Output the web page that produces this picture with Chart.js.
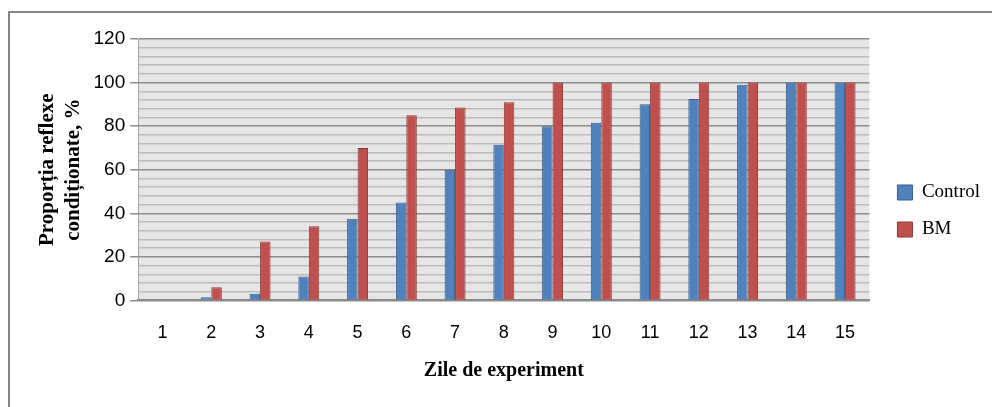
<!DOCTYPE html>
<html>
<head>
<meta charset="utf-8">
<script src="https://cdn.jsdelivr.net/npm/chart.js@4/dist/chart.umd.min.js"></script>
<style>
    html, body { margin: 0; padding: 0; background: #ffffff; overflow: hidden; }
    #wrap { position: relative; width: 992px; height: 407px; }
    #frame { position: absolute; left: 8px; top: 11px; width: 1000px; height: 420px;
        border-top: 2px solid #858585; border-left: 2px solid #858585; box-sizing: border-box; }
    #chart { position: absolute; left: 0; top: 0; }
</style>
</head>
<body>
<div id="wrap">
    <div id="frame"></div>
    <canvas id="chart" width="992" height="407"></canvas>
</div>
<script>
const days = ["1", "2", "3", "4", "5", "6", "7", "8", "9", "10", "11", "12", "13", "14", "15"];
const controlVals = [0, 1.5, 3, 11, 37.5, 45, 60, 71.5, 80, 81.5, 90, 92.5, 99, 100, 100];
const bmVals = [0, 6, 27, 34, 70, 85, 88.5, 91, 100, 100, 100, 100, 100, 100, 100];
const yTitle = ["Proporția reflexe", "condiționate, %"];
const xTitle = "Zile de experiment";

// grey plot background
const plotBack = {
    id: "plotBack",
    beforeDraw(chart) {
        let a = chart.chartArea;
        let ctx = chart.ctx;
        ctx.save();
        ctx.fillStyle = "#e6e6e6";
        ctx.fillRect(a.left, a.top, a.right - a.left, a.bottom - a.top);
        ctx.restore();
    },
};

// empty box between plot and legend, so the legend sits a bit further right
const legendGap = {
    id: "legendGap",
    beforeInit(chart) {
        Chart.layouts.addBox(chart, {
            position: "right",
            weight: 500,
            fullSize: false,
            options: { display: true },
            isHorizontal() {
                return false;
            },
            update(maxW, maxH) {
                this.width = 10;
                this.height = maxH;
            },
            draw() {},
        });
    },
};

let char = document.getElementById("chart");
let barChart = new Chart(char, {
    type: "bar",
    data: {
        labels: days,
        datasets: [
            {
                label: "Control",
                data: controlVals,
                backgroundColor: "#4f81bd",
                borderColor: "#385d8a",
                borderWidth: 1,
                borderSkipped: "bottom",
            },
            {
                label: "BM",
                data: bmVals,
                backgroundColor: "#c0504d",
                borderColor: "#8c3836",
                borderWidth: 1,
                borderSkipped: "bottom",
            },
        ],
    },
    plugins: [plotBack, legendGap],
    options: {
        responsive: false,
        animation: false,
        layout: {
            padding: { left: 34, top: 39, right: 2, bottom: 24 },
        },
        datasets: {
            bar: { categoryPercentage: 0.43, barPercentage: 1.0 },
        },
        plugins: {
            tooltip: { enabled: false },
            legend: {
                position: "right",
                labels: {
                    color: "#000000",
                    font: { family: "Liberation Serif", size: 19 },
                    boxWidth: 15,
                    boxHeight: 15,
                    padding: 18,
                },
            },
        },
        scales: {
            x: {
                grid: { display: false },
                border: { display: true, color: "#8a8a8a", width: 2 },
                ticks: {
                    color: "#000000",
                    font: { family: "Liberation Sans", size: 18 },
                    padding: 14,
                },
                title: {
                    display: true,
                    text: xTitle,
                    color: "#000000",
                    font: { family: "Liberation Serif", size: 20, weight: "bold" },
                    padding: { top: 1, bottom: 0 },
                },
            },
            y: {
                min: 0,
                max: 120,
                ticks: {
                    stepSize: 4,
                    autoSkip: false,
                    color: "#000000",
                    font: { family: "Liberation Sans", size: 19 },
                    padding: 5,
                    callback: (v) => (v % 20 === 0 ? v : ""),
                },
                grid: {
                    drawTicks: true,
                    tickLength: 8,
                    color: (ctx) => (ctx.tick && ctx.tick.value % 20 === 0 ? "#8c8c8c" : "#bcbcbc"),
                    lineWidth: 1.5,
                    tickColor: (ctx) => (ctx.tick && ctx.tick.value % 20 === 0 ? "#8c8c8c" : "rgba(0,0,0,0)"),
                },
                border: { display: true, color: "#a0a0a0", width: 1 },
                title: {
                    display: true,
                    text: yTitle,
                    color: "#000000",
                    font: { family: "Liberation Serif", size: 21, weight: "bold", lineHeight: 1.25 },
                    padding: { top: 0, bottom: 2 },
                },
            },
        },
    },
});
</script>
</body>
</html>
